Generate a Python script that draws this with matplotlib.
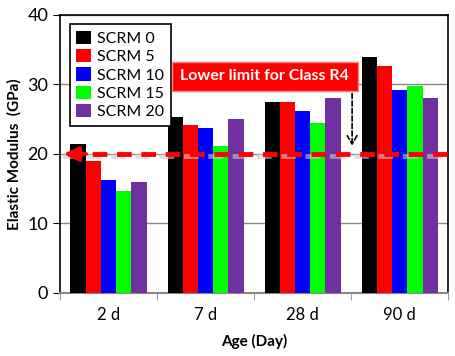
import matplotlib.pyplot as plt
import numpy as np
from matplotlib.patches import Rectangle

plt.rcParams['font.family'] = ['Lato', 'DejaVu Sans']

ages = ['2 d', '7 d', '28 d', '90 d']
series = ['SCRM 0', 'SCRM 5', 'SCRM 10', 'SCRM 15', 'SCRM 20']
scrm0 = [21.4, 25.3, 27.5, 33.9]
scrm5 = [19.0, 24.1, 27.5, 32.7]
scrm10 = [16.3, 23.8, 26.2, 29.2]
scrm15 = [14.7, 21.1, 24.4, 29.8]
scrm20 = [15.9, 25.0, 28.0, 28.0]
limit = 20
colors = ['#000000', '#ff0000', '#0000ff', '#00ff00', '#7030a0']

fig = plt.figure(figsize=(4.55, 3.56), dpi=100)
ax = fig.add_axes([0.132, 0.177, 0.853, 0.781])

x = np.arange(len(ages))
w = 0.157
for i, (vals, name) in enumerate(zip([scrm0, scrm5, scrm10, scrm15, scrm20], series)):
    ax.bar(x + (i - 2) * w, vals, w, color=colors[i], label=name, zorder=3)

ax.set_xlim(-0.5, 3.5)
ax.set_ylim(0, 40)
ax.set_yticks([0, 10, 20, 30, 40])
ax.set_xticks(x)
ax.set_xticklabels(ages)
ax.set_xticks(np.arange(-0.5, 4, 1), minor=True)
ax.tick_params(axis='x', which='major', length=0, pad=10, labelsize=12)
ax.tick_params(axis='x', which='minor', length=5, color='#888888', direction='out')
ax.tick_params(axis='y', length=5, labelsize=13, color='black')
ax.yaxis.grid(True, color='#888888', linewidth=1, zorder=0)
ax.spines['bottom'].set_color('#888888')
ax.spines['bottom'].set_linewidth(1.5)
for s in ['left', 'top', 'right']:
    ax.spines[s].set_linewidth(1.2)

ax.set_ylabel('Elastic Modulus  (GPa)', fontsize=11, fontweight='bold')
ax.set_xlabel('Age (Day)', fontsize=11, fontweight='bold', labelpad=8)

leg = ax.legend(loc='upper left', bbox_to_anchor=(0.005, 0.995), fontsize=11.5,
                handlelength=0.9, handleheight=0.9, handletextpad=0.4,
                labelspacing=0.2, borderpad=0.4, fancybox=False, framealpha=1)
leg.get_frame().set_edgecolor('black')
leg.get_frame().set_linewidth(1.2)
leg.set_zorder(5)

# red dashed limit line with arrow head and shadow
ax.plot([-0.48, 3.5], [limit - 0.35, limit - 0.35], color='#cccccc', lw=3.5,
        ls=(0, (3, 2)), zorder=3.5, alpha=0.6)
ax.plot([-0.42, 3.5], [limit, limit], color='#ff0000', lw=3.5,
        ls=(0, (3, 2)), zorder=4)
ax.annotate('', xy=(-0.49, limit), xytext=(-0.2, limit),
            arrowprops=dict(arrowstyle='-|>,head_length=0.9,head_width=0.45',
                            color='#ff0000', lw=2.5), zorder=4)

ax.add_patch(Rectangle((0.655, 29.1), 1.915, 4.2, fc='#ff0000', ec='#ff8080',
                       lw=1, zorder=6))
ax.text(1.61, 31.2, 'Lower limit for Class R4', color='white', fontsize=11.5,
        fontweight='bold', ha='center', va='center', zorder=7)
ax.annotate('', xy=(2.51, limit + 0.8), xytext=(2.51, 29.1),
            arrowprops=dict(arrowstyle='->,head_length=0.6,head_width=0.35',
                            color='black', lw=1.2, ls=(0, (3, 1.5))), zorder=6)

fig.savefig('out.png', dpi=100)
